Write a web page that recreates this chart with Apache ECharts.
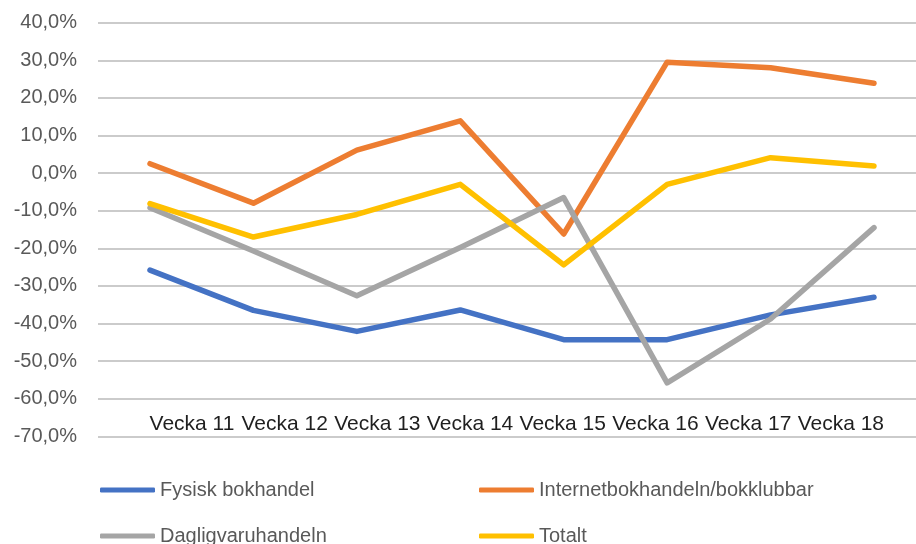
<!DOCTYPE html>
<html>
<head>
<meta charset="utf-8">
<script src="https://cdn.jsdelivr.net/npm/echarts@6/dist/echarts.min.js"></script>
<style>
  html, body { margin: 0; padding: 0; background: #fff; }
  #chart { width: 916px; height: 544px; }
</style>
</head>
<body>
<div id="chart"></div>
<script>
var weeks = ['Vecka 11', 'Vecka 12', 'Vecka 13', 'Vecka 14', 'Vecka 15', 'Vecka 16', 'Vecka 17', 'Vecka 18'];
var fysisk = [-25.8, -36.5, -42.1, -36.4, -44.3, -44.3, -37.7, -33.0];
var internet = [2.5, -8.0, 6.1, 13.9, -16.2, 29.5, 28.0, 23.9];
var daglig = [-9.2, -20.7, -32.6, -19.8, -6.5, -55.8, -38.8, -14.5];
var totalt = [-8.1, -17.0, -11.0, -3.0, -24.4, -3.0, 4.1, 1.9];

var chart = echarts.init(document.getElementById('chart'));

function pct(v) {
    return v.toFixed(1).replace('.', ',') + '%';
}

function line(name, data, color) {
    return {
        name: name,
        type: 'line',
        data: data,
        symbol: 'none',
        xAxisIndex: 0,
        yAxisIndex: 0,
        lineStyle: { color: color, width: 5.5, cap: 'round', join: 'round' },
        itemStyle: { color: color }
    };
}

function legendAt(name, left, top) {
    return {
        data: [name],
        left: left,
        top: top,
        padding: 0,
        icon: 'roundRect',
        itemWidth: 55,
        itemHeight: 5,
        itemGap: 5,
        textStyle: { fontFamily: 'Liberation Sans', fontSize: 20, color: '#595959' }
    };
}

var gridTop = 22.7, gridBottom = 107.7;

var option = {
    animation: false,
    grid: [
        // data grid: first/last point on the edges
        { left: 150, top: gridTop, right: 42, bottom: gridBottom },
        // category labels
        { left: 145.6, top: gridTop, width: 741.6, bottom: gridBottom },
        // value axis with gridlines
        { left: 98, top: gridTop, right: 0, bottom: gridBottom }
    ],
    xAxis: [
        {
            type: 'category',
            data: weeks,
            gridIndex: 0,
            boundaryGap: false,
            show: false
        },
        {
            type: 'category',
            data: weeks,
            gridIndex: 1,
            boundaryGap: true,
            axisLine: { show: false },
            axisTick: { show: false },
            axisLabel: {
                interval: 0,
                margin: -12,
                verticalAlign: 'middle',
                fontFamily: 'Liberation Sans',
                fontSize: 21,
                color: '#1f1f1f'
            }
        },
        {
            type: 'category',
            data: weeks,
            gridIndex: 2,
            show: false
        }
    ],
    yAxis: [
        { type: 'value', gridIndex: 0, min: -70, max: 40, interval: 10, show: false },
        { type: 'value', gridIndex: 1, min: -70, max: 40, interval: 10, show: false },
        {
            type: 'value',
            gridIndex: 2,
            min: -70,
            max: 40,
            interval: 10,
            axisLine: { show: false },
            axisTick: { show: false },
            axisLabel: {
                margin: 21,
                formatter: pct,
                fontFamily: 'Liberation Sans',
                fontSize: 20,
                color: '#595959'
            },
            splitLine: { lineStyle: { color: '#cbcbcb', width: 2 } }
        }
    ],
    legend: [
        legendAt('Fysisk bokhandel', 100, 480),
        legendAt('Internetbokhandeln/bokklubbar', 479, 480),
        legendAt('Dagligvaruhandeln', 100, 526),
        legendAt('Totalt', 479, 526)
    ],
    series: [
        line('Fysisk bokhandel', fysisk, '#4472C4'),
        line('Internetbokhandeln/bokklubbar', internet, '#ED7D31'),
        line('Dagligvaruhandeln', daglig, '#A5A5A5'),
        line('Totalt', totalt, '#FFC000')
    ]
};

chart.setOption(option);
</script>
</body>
</html>
